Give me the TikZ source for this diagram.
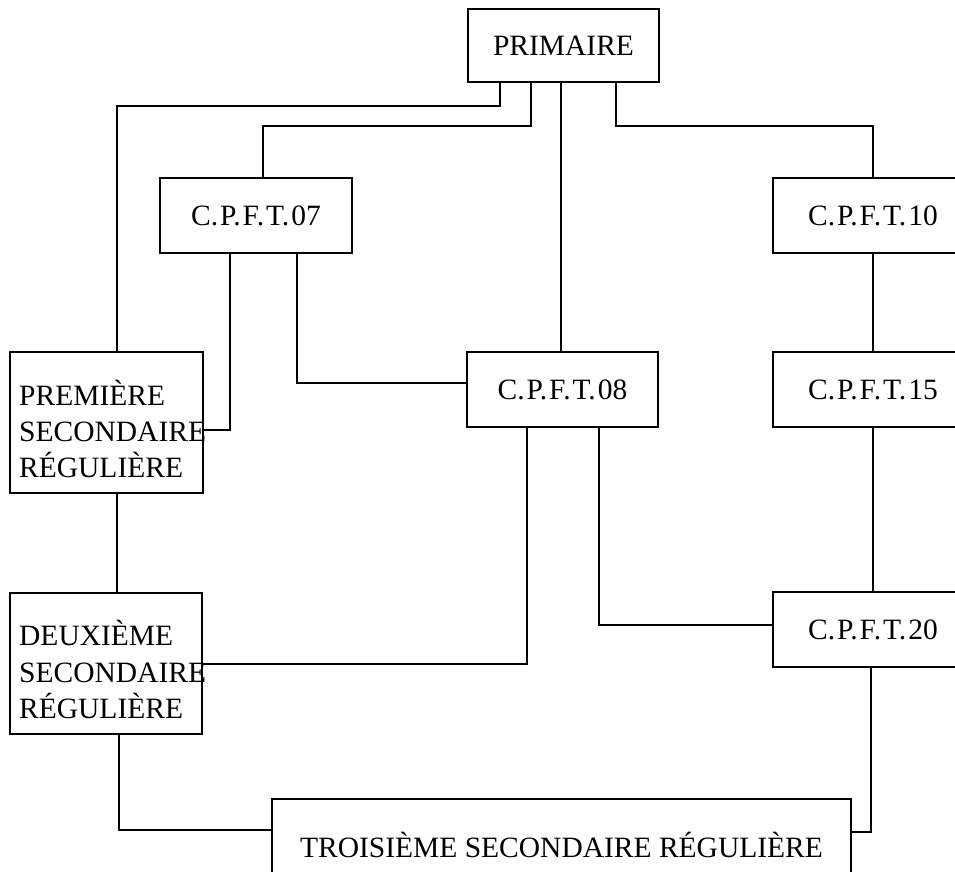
\documentclass[tikz,border=0pt]{standalone}
\usepackage{fontspec}
\setmainfont{Liberation Serif}
\newcommand{\cpft}[1]{C.\kern2pt P.\kern2pt F.\kern2pt T.\kern2pt #1}
\begin{document}
\begin{tikzpicture}[x=1pt,y=-1pt,
  box/.style={draw,line width=1.8pt,rectangle,inner sep=0pt,font=\fontsize{29.5}{36}\selectfont},
  lbl/.style={inner sep=0pt,anchor=base west,font=\fontsize{29.5}{36}\selectfont},
  conn/.style={line width=1.3pt}]
\useasboundingbox (0,0) rectangle (955,872);
\fill[white] (0,0) rectangle (955,872);
% boxes
\node[box,minimum width=191pt,minimum height=73pt] (prim) at (563.5,45.5) {PRIMAIRE};
\node[box,minimum width=192pt,minimum height=75pt] (c07) at (256,215.5) {\cpft{07}};
\node[box,minimum width=200pt,minimum height=75pt] (c10) at (873,215.5) {\cpft{10}};
\node[box,minimum width=191pt,minimum height=75pt] (c08) at (562.5,389.5) {\cpft{08}};
\node[box,minimum width=200pt,minimum height=75pt] (c15) at (873,389.5) {\cpft{15}};
\node[box,minimum width=200pt,minimum height=75pt] (c20) at (873,629.5) {\cpft{20}};
\node[box,minimum width=193pt,minimum height=141pt] (prem) at (106.5,422.5) {};
\node[box,minimum width=192pt,minimum height=141pt] (deux) at (106,663.5) {};
\node[box,minimum width=579pt,minimum height=92pt] (trois) at (561.5,845) {TROISIÈME SECONDAIRE RÉGULIÈRE};
% multi-line texts
\node[lbl] (prem1) at (19,405) {PREMIÈRE};
\node[lbl] (prem2) at (19,441) {SECONDAIRE};
\node[lbl] (prem3) at (19,477) {RÉGULIÈRE};
\node[lbl] (deux1) at (19,645) {DEUXIÈME};
\node[lbl] (deux2) at (19,682) {SECONDAIRE};
\node[lbl] (deux3) at (19,718) {RÉGULIÈRE};
% connectors
\draw[conn] (500,0 |- prim.south) |- (117,106) -- (117,0 |- prem.north);
\draw[conn] (531,0 |- prim.south) |- (263,126) -- (263,0 |- c07.north);
\draw[conn] (561,0 |- prim.south) -- (561,0 |- c08.north);
\draw[conn] (616,0 |- prim.south) |- (873,126) -- (873,0 |- c10.north);
\draw[conn] (230,0 |- c07.south) |- (prem.east |- 0,430);
\draw[conn] (297,0 |- c07.south) |- (c08.west |- 0,383);
\draw[conn] (873,0 |- c10.south) -- (873,0 |- c15.north);
\draw[conn] (873,0 |- c15.south) -- (873,0 |- c20.north);
\draw[conn] (527,0 |- c08.south) |- (deux.east |- 0,664);
\draw[conn] (599,0 |- c08.south) |- (c20.west |- 0,625);
\draw[conn] (117,0 |- prem.south) -- (117,0 |- deux.north);
\draw[conn] (119,0 |- deux.south) |- (trois.west |- 0,830);
\draw[conn] (871,0 |- c20.south) |- (trois.east |- 0,832);
\end{tikzpicture}
\end{document}
